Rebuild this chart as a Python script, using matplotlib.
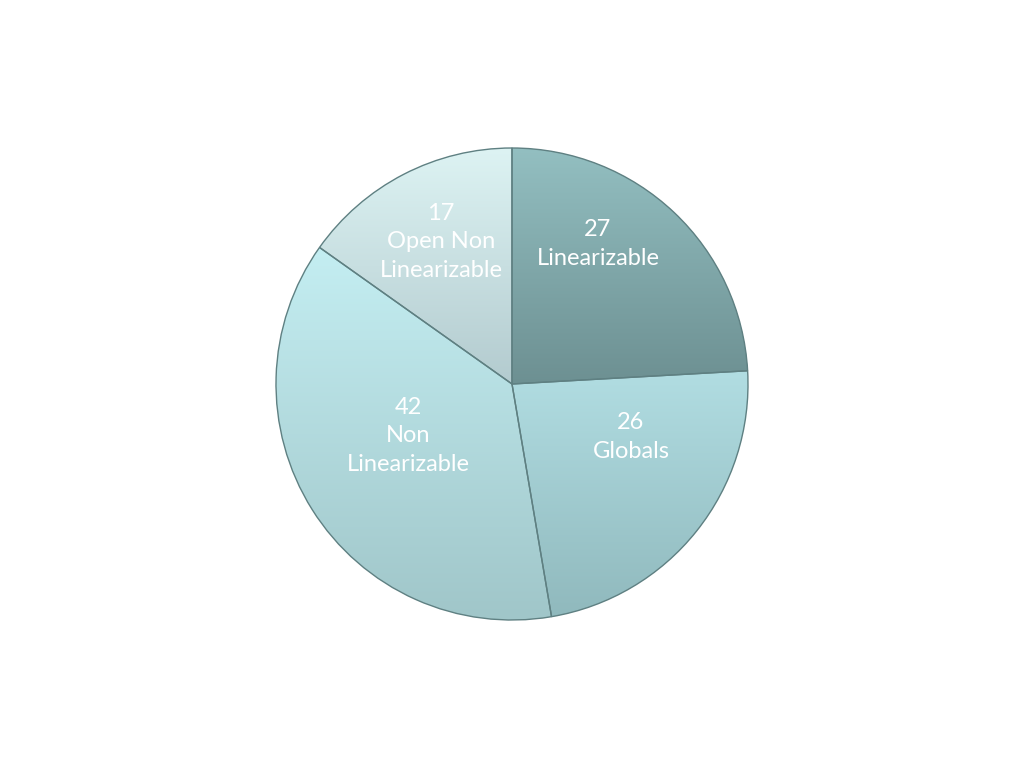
import matplotlib
matplotlib.use("Agg")
import matplotlib.pyplot as plt
import matplotlib.colors as mcolors
from matplotlib.patches import Wedge
import numpy as np

# slice data, clockwise from 12 o'clock
counts = [27, 26, 42, 17]
names = ["Linearizable", "Globals", "Non\nLinearizable", "Open Non\nLinearizable"]

# top / bottom colour of the vertical gradient in each slice
top_colors = ["#93bfc1", "#b1dde2", "#c4eef2", "#ddf3f3"]
bottom_colors = ["#6d9092", "#90b9bd", "#a0c6c9", "#b3cbcf"]

# where the labels sit (pie radius = 1)
label_pos = [(0.364, 0.593), (0.504, -0.225), (-0.441, -0.220), (-0.301, 0.602)]

fig = plt.figure(figsize=(10.24, 7.68), dpi=100)
fig.patch.set_facecolor("white")
R = 236.0
pad = 240.0
ax = fig.add_axes([(512 - pad) / 1024, (384 - pad) / 768, 2 * pad / 1024, 2 * pad / 768])

labels = ["{0}\n{1}".format(c, n) for c, n in zip(counts, names)]
wedges, texts = ax.pie(counts, labels=labels, startangle=90, counterclock=False,
                       colors=top_colors, labeldistance=0.6,
                       wedgeprops=dict(edgecolor="none", linewidth=0))

lim = pad / R
ax.set_aspect("equal")
ax.axis("off")

for w, c1, c2 in zip(wedges, top_colors, bottom_colors):
    ext = w.get_path().get_extents()
    cmap = mcolors.LinearSegmentedColormap.from_list("g", [c2, c1])
    grad = np.linspace(0, 1, 256).reshape(-1, 1)
    im = ax.imshow(grad, cmap=cmap, origin="lower", aspect="auto",
                   extent=(ext.x0, ext.x1, ext.y0, ext.y1), zorder=2)
    im.set_clip_path(w)
    # outline on top
    edge = Wedge(w.center, w.r, w.theta1, w.theta2, facecolor="none",
                 edgecolor="#5f8082", linewidth=1.0, zorder=3)
    ax.add_patch(edge)

ax.set_xlim(-lim, lim)
ax.set_ylim(-lim, lim)

for t, pos in zip(texts, label_pos):
    t.set_position(pos)
    t.set_ha("center")
    t.set_va("center")
    t.set_color("white")
    t.set_fontsize(17)
    t.set_family("Lato")
    t.set_linespacing(1.45)
    t.set_zorder(5)

fig.savefig("out.png", dpi=100, facecolor="white")
